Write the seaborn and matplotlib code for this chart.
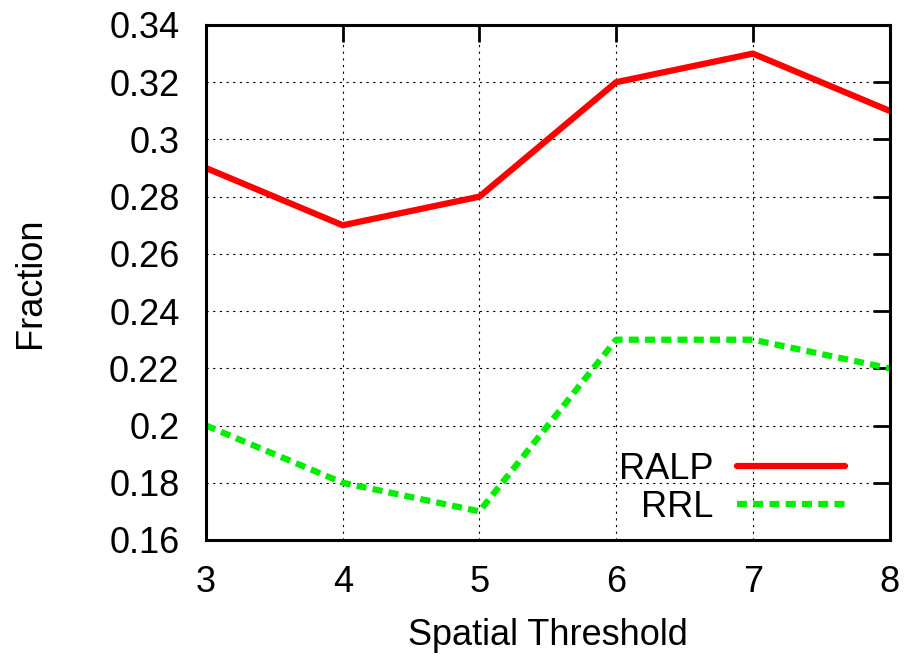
import matplotlib
matplotlib.use("Agg")
import matplotlib.pyplot as plt
import seaborn as sns
import pandas as pd
from matplotlib.lines import Line2D

thresholds = [3, 4, 5, 6, 7, 8]
ralp = [0.29, 0.27, 0.28, 0.32, 0.33, 0.31]
rrl = [0.20, 0.18, 0.17, 0.23, 0.23, 0.22]
series_names = ["RALP", "RRL"]
yticks = [0.16, 0.18, 0.2, 0.22, 0.24, 0.26, 0.28, 0.3, 0.32, 0.34]
ytick_labels = ["0.16", "0.18", "0.2", "0.22", "0.24", "0.26", "0.28", "0.3", "0.32", "0.34"]

df = pd.DataFrame({
    "x": thresholds * 2,
    "y": ralp + rrl,
    "series": [series_names[0]] * len(thresholds) + [series_names[1]] * len(thresholds),
})

sns.set_style("white")
plt.rcParams["font.family"] = ["Liberation Sans", "DejaVu Sans"]
plt.rcParams["text.color"] = "black"
plt.rcParams["axes.labelcolor"] = "black"
plt.rcParams["xtick.color"] = "black"
plt.rcParams["ytick.color"] = "black"

LW = 4.5
DASH = (0, (1.6, 1.0))
RED = "#ff0000"
GREEN = "#00ee00"

fig = plt.figure(figsize=(9.09, 6.59), dpi=100)
ax = fig.add_axes([0.2266, 0.1806, 0.752, 0.7815])

sns.lineplot(data=df, x="x", y="y", hue="series",
             palette={"RALP": RED, "RRL": GREEN},
             linewidth=LW, ax=ax, legend=False)
ax.lines[1].set_linestyle(DASH)

ax.set_xlim(3, 8)
ax.set_ylim(0.16, 0.34)
ax.set_xticks(thresholds)
ax.set_xticklabels([str(t) for t in thresholds])
ax.set_yticks(yticks)
ax.set_yticklabels(ytick_labels)
ax.tick_params(axis="both", direction="in", length=12, width=2, labelsize=26,
               top=True, right=True, colors="black")
ax.tick_params(axis="y", pad=19)
ax.tick_params(axis="x", pad=18)
ax.grid(True, color="black", linestyle=(0, (2, 4)), linewidth=0.8)
for s in ax.spines.values():
    s.set_linewidth(2.2)
    s.set_color("black")
ax.set_xlabel("Spatial Threshold", fontsize=26, labelpad=13, color="black")
ax.set_ylabel("Fraction", fontsize=26, labelpad=44, color="black")

handles = [Line2D([], [], color=RED, linewidth=LW),
           Line2D([], [], color=GREEN, linewidth=LW, linestyle=DASH)]
leg = ax.legend(handles, series_names, loc="lower right", frameon=False,
                markerfirst=False, fontsize=26, handlelength=3.0,
                borderaxespad=0, borderpad=0,
                bbox_to_anchor=(0.935, 0.03), labelspacing=0.08, handletextpad=0.65)
for t in leg.get_texts():
    t.set_ha("right")
    t.set_color("black")

fig.savefig("out.png", dpi=100)
